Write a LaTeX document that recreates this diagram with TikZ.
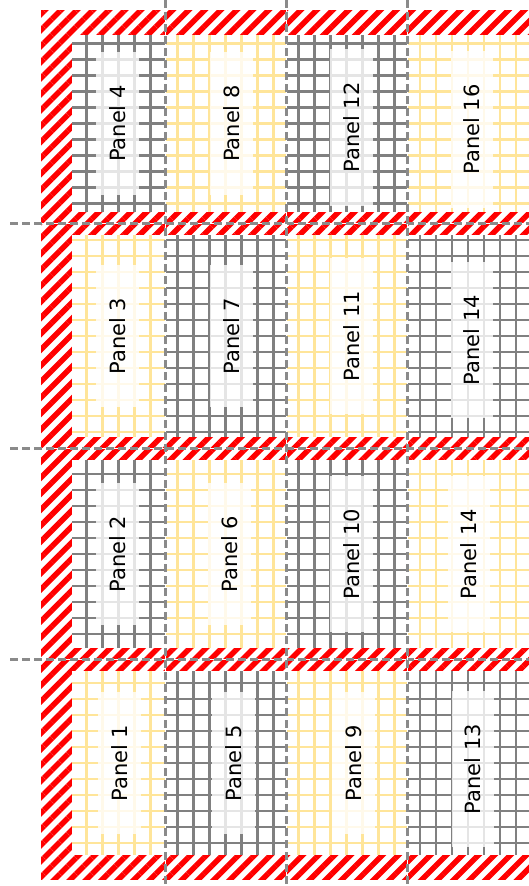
\documentclass[tikz,border=0pt]{standalone}
\usepackage{fontspec}
\setmainfont{DejaVu Sans}
\usetikzlibrary{positioning,patterns.meta,calc}

\definecolor{gridgray}{HTML}{808080}
\definecolor{gridyellow}{HTML}{FFE599}
\definecolor{cutgray}{HTML}{8A8A8A}

\begin{document}
\begin{tikzpicture}[
  x=1pt, y=-1pt,
  node distance=23pt and 0pt,
  cell/.style={inner sep=0pt, outer sep=0pt, fill=white,
    path picture={\draw[#1, line width=2.4pt, yshift=-6pt, step=16pt]
      (path picture bounding box.south west) grid (path picture bounding box.north east);}},
  graycell/.style={cell=gridgray},
  yellowcell/.style={cell=gridyellow},
  c1/.style={minimum width=93pt}, c2/.style={minimum width=121pt},
  c3/.style={minimum width=121pt}, c4/.style={minimum width=122pt},
  r1/.style={minimum height=177pt}, r2/.style={minimum height=202pt},
  r3/.style={minimum height=188pt}, r4/.style={minimum height=184pt},
  tag/.style={rotate=90, fill=white, fill opacity=0.8, text opacity=1,
    inner xsep=33pt, inner ysep=13pt, font=\fontsize{21pt}{25pt}\selectfont},
  cut/.style={cutgray, line width=3pt, dash pattern=on 8pt off 4pt,
    preaction={draw=white, solid}}
]
\useasboundingbox (0,0) rectangle (529,886);

% bleed
\fill[pattern={Lines[angle=45, distance=11.3pt, line width=5.5pt]}, pattern color=red]
  (41,10) rectangle (529,879);

% panels, column by column
\node[graycell, c1, r1, anchor=north west] (p4) at (72,35) {};
\node[yellowcell, c1, r2, below=of p4] (p3) {};
\node[graycell, c1, r3, below=of p3] (p2) {};
\node[yellowcell, c1, r4, below=of p2] (p1) {};

\node[yellowcell, c2, r1, right=of p4] (p8) {};
\node[graycell, c2, r2, right=of p3] (p7) {};
\node[yellowcell, c2, r3, right=of p2] (p6) {};
\node[graycell, c2, r4, right=of p1] (p5) {};

\node[graycell, c3, r1, right=of p8] (p12) {};
\node[yellowcell, c3, r2, right=of p7] (p11) {};
\node[graycell, c3, r3, right=of p6] (p10) {};
\node[yellowcell, c3, r4, right=of p5] (p9) {};

\node[yellowcell, c4, r1, right=of p12] (p16) {};
\node[graycell, c4, r2, right=of p11] (p15) {};
\node[yellowcell, c4, r3, right=of p10] (p14) {};
\node[graycell, c4, r4, right=of p9] (p13) {};

% labels
\node[tag] (t4) at ([xshift=-1pt]p4) {Panel 4};
\node[tag] (t3) at ([xshift=-1pt]p3) {Panel 3};
\node[tag] (t2) at ([xshift=-1pt]p2) {Panel 2};
\node[tag] (t1) at ([xshift=1pt]p1) {Panel 1};
\node[tag] (t8) at ([xshift=6pt]p8) {Panel 8};
\node[tag] (t7) at ([xshift=6pt]p7) {Panel 7};
\node[tag] (t6) at ([xshift=4pt]p6) {Panel 6};
\node[tag] (t5) at ([xshift=8pt]p5) {Panel 5};
\node[tag] (t12) at ([xshift=5pt,yshift=-4pt]p12) {Panel 12};
\node[tag] (t11) at ([xshift=5pt]p11) {Panel 11};
\node[tag] (t10) at ([xshift=5pt]p10) {Panel 10};
\node[tag] (t9) at ([xshift=7pt]p9) {Panel 9};
\node[tag] (t16) at ([xshift=4pt,yshift=-6pt]p16) {Panel 16};
\node[tag] (t15) at ([xshift=4pt,yshift=-4pt]p15) {Panel 14};
\node[tag] (t14) at ([xshift=1pt]p14) {Panel 14};
\node[tag] (t13) at ([xshift=5pt,yshift=-6pt]p13) {Panel 13};

% cut lines
\coordinate (top) at (0,0);
\coordinate (bottom) at (0,886);
\coordinate (left) at (10,0);
\coordinate (right) at (529,0);
\coordinate (g1) at ($(p4.south)!.5!(p3.north)$);
\coordinate (g2) at ($(p3.south)!.5!(p2.north)$);
\coordinate (g3) at ($(p2.south)!.5!(p1.north)$);

\draw[cut] (g1 -| left) -- (g1 -| right);
\draw[cut] (g2 -| left) -- (g2 -| right);
\draw[cut] (g3 -| left) -- (g3 -| right);
\draw[cut] (p4.north east |- top) -- (p4.north east |- bottom);
\draw[cut] (p8.north east |- top) -- (p8.north east |- bottom);
\draw[cut] (p12.north east |- top) -- (p12.north east |- bottom);

\end{tikzpicture}
\end{document}
